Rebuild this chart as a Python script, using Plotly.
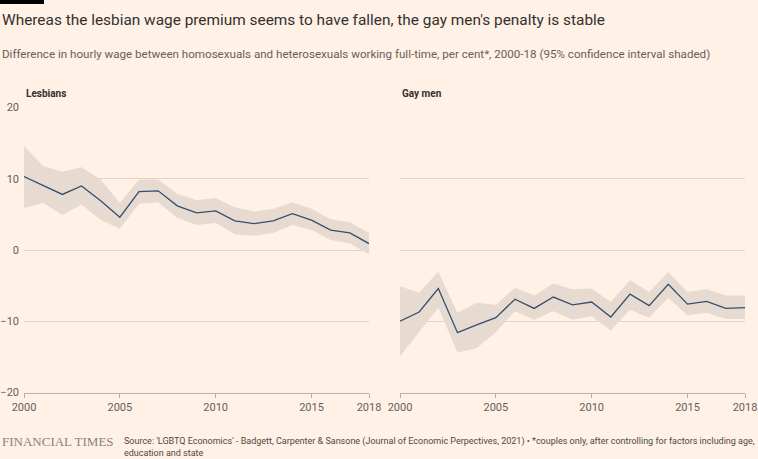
import plotly.graph_objects as go

years = list(range(2000, 2019))

les_mid = [10.3, 9.1, 7.8, 9.0, 6.9, 4.6, 8.2, 8.3, 6.2, 5.2, 5.5, 4.1, 3.7, 4.1, 5.1, 4.2, 2.8, 2.4, 0.9]
les_hi = [14.6, 11.8, 11.0, 11.6, 9.9, 6.6, 9.9, 9.9, 7.9, 7.0, 7.3, 6.0, 5.4, 5.8, 6.7, 5.8, 4.3, 3.9, 2.4]
les_lo = [5.9, 6.6, 4.9, 6.4, 4.2, 3.0, 6.5, 6.7, 4.5, 3.5, 3.8, 2.2, 2.0, 2.4, 3.5, 2.8, 1.4, 0.9, -0.6]

gay_mid = [-10.0, -8.7, -5.4, -11.6, -10.5, -9.5, -6.9, -8.2, -6.6, -7.7, -7.3, -9.4, -6.2, -7.8, -4.8, -7.6, -7.2, -8.2, -8.1]
gay_hi = [-5.1, -6.0, -3.0, -8.8, -7.4, -7.7, -5.3, -6.4, -4.7, -5.5, -5.4, -7.3, -4.2, -5.9, -3.1, -5.9, -5.5, -6.4, -6.4]
gay_lo = [-14.9, -11.5, -8.1, -14.4, -13.8, -11.5, -8.6, -9.8, -8.6, -9.8, -9.3, -11.3, -8.4, -9.5, -6.7, -9.2, -8.8, -9.7, -9.7]

x_ticks = [2000, 2005, 2010, 2015, 2018]
y_ticks = [-20, -10, 0, 10, 20]

BG = "#FFF1E5"
BAND = "#E7DBD1"
LINE = "#33506F"
GRID = "#E1D4C9"
AXIS = "#BDB1A7"
TXT = "#66605C"
FONT = "Roboto"

W, H = 758, 459
fig = go.Figure()

def add_panel(mid, hi, lo, xa, ya):
    fig.add_trace(go.Scatter(x=years + years[::-1], y=hi + lo[::-1], fill="toself",
                             fillcolor=BAND, line=dict(width=0), mode="lines",
                             hoverinfo="skip", showlegend=False, xaxis=xa, yaxis=ya))
    fig.add_trace(go.Scatter(x=years, y=mid, mode="lines", line=dict(color=LINE, width=1.3),
                             showlegend=False, xaxis=xa, yaxis=ya))

add_panel(les_mid, les_hi, les_lo, "x", "y")
add_panel(gay_mid, gay_hi, gay_lo, "x2", "y2")

ydom = [1 - 392.5 / H, 1 - 107.5 / H]
xcommon = dict(range=[2000, 2018], tickvals=x_ticks, ticktext=[str(v) for v in x_ticks],
               showgrid=False, zeroline=False, showline=True, linecolor=AXIS, linewidth=1,
               ticks="outside", ticklen=4, tickcolor=AXIS, automargin=False,
               tickfont=dict(family=FONT, size=11, color=TXT), fixedrange=True)
ycommon = dict(range=[-20, 20], tickvals=y_ticks, showgrid=True, gridcolor=GRID, gridwidth=1,
               zeroline=False, showline=False, ticks="", automargin=False,
               tickfont=dict(family=FONT, size=11, color=TXT), fixedrange=True)

fig.update_layout(
    width=W, height=H,
    paper_bgcolor=BG, plot_bgcolor=BG,
    margin=dict(l=0, r=0, t=0, b=0, pad=0),
    xaxis=dict(domain=[24 / W, 369 / W], anchor="y", **xcommon),
    xaxis2=dict(domain=[400 / W, 745 / W], anchor="y2", **xcommon),
    yaxis=dict(domain=ydom, anchor="x", showticklabels=True, ticklabelstandoff=4, **ycommon),
    yaxis2=dict(domain=ydom, anchor="x2", showticklabels=False, **ycommon),
    shapes=[dict(type="rect", xref="paper", yref="paper", x0=0, x1=44 / W, y0=1 - 4 / H, y1=1,
                 fillcolor="#000000", line=dict(width=0), layer="above")],
    annotations=[
        dict(text="Whereas the lesbian wage premium seems to have fallen, the gay men's penalty is stable",
             xref="paper", yref="paper", x=0, y=1 - 20 / H, xanchor="left", yanchor="middle",
             showarrow=False, font=dict(family=FONT, size=15.4, color="#33302E")),
        dict(text="Difference in hourly wage between homosexuals and heterosexuals working full-time, per cent*, 2000-18 (95% confidence interval shaded)",
             xref="paper", yref="paper", x=0, y=1 - 54 / H, xanchor="left", yanchor="middle",
             showarrow=False, font=dict(family=FONT, size=11.6, color=TXT)),
        dict(text="<b>Lesbians</b>", xref="paper", yref="paper", x=24 / W, y=1 - 94 / H,
             xanchor="left", yanchor="middle", showarrow=False,
             font=dict(family=FONT, size=10, color="#33302E")),
        dict(text="<b>Gay men</b>", xref="paper", yref="paper", x=400 / W, y=1 - 94 / H,
             xanchor="left", yanchor="middle", showarrow=False,
             font=dict(family=FONT, size=10, color="#33302E")),
        dict(text="FINANCIAL TIMES", xref="paper", yref="paper", x=0, y=1 - 441 / H,
             xanchor="left", yanchor="middle", showarrow=False,
             font=dict(family="Liberation Serif", size=13, color="#8C827B")),
        dict(text="Source: 'LGBTQ Economics' - Badgett, Carpenter &amp; Sansone (Journal of Economic Perpectives, 2021) • *couples only, after controlling for factors including age,<br>education and state",
             xref="paper", yref="paper", x=122 / W, y=1 - 447 / H, xanchor="left", yanchor="middle",
             align="left", showarrow=False,
             font=dict(family=FONT, size=9, color="#4D4845")),
    ],
)

fig.write_html("out.html", config={"displayModeBar": False},
               post_script="document.body.style.margin='0';document.documentElement.style.margin='0';")
